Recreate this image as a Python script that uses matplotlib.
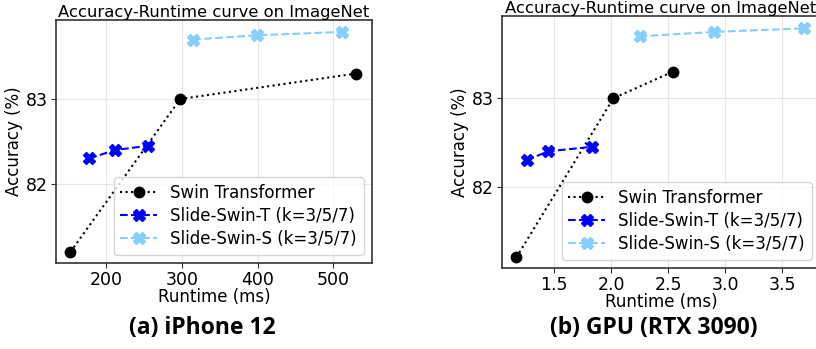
import matplotlib
matplotlib.use("Agg")
import matplotlib.pyplot as plt

# Data: (a) iPhone 12
iphone_swin_x = [153, 298, 530]
iphone_swin_y = [81.2, 83.0, 83.3]
iphone_t_x = [178, 212, 256]
iphone_t_y = [82.3, 82.4, 82.45]
iphone_s_x = [315, 399, 512]
iphone_s_y = [83.7, 83.75, 83.79]

# Data: (b) GPU RTX 3090
gpu_swin_x = [1.17, 2.02, 2.54]
gpu_swin_y = [81.2, 83.0, 83.3]
gpu_t_x = [1.26, 1.45, 1.83]
gpu_t_y = [82.3, 82.4, 82.45]
gpu_s_x = [2.25, 2.90, 3.69]
gpu_s_y = [83.7, 83.75, 83.79]

labels = ["Swin Transformer", "Slide-Swin-T (k=3/5/7)", "Slide-Swin-S (k=3/5/7)"]
captions = ["(a) iPhone 12", "(b) GPU (RTX 3090)"]

W, H = 816, 349
fig = plt.figure(figsize=(W / 100, H / 100), dpi=100)


def px_axes(l, t, r, b):
    return fig.add_axes([l / W, 1 - b / H, (r - l) / W, (b - t) / H])


def draw(ax, sx, sy, tx, ty, qx, qy, xlim, xticks, ylim):
    ax.plot(sx, sy, color="black", linestyle=":", marker="o", markersize=7.5,
            linewidth=1.5, label=labels[0])
    ax.plot(tx, ty, color="blue", linestyle="--", marker="X", markersize=8.5,
            linewidth=1.5, label=labels[1])
    ax.plot(qx, qy, color="lightskyblue", linestyle="--", marker="X", markersize=8.5,
            linewidth=1.5, label=labels[2])
    ax.set_xlim(*xlim)
    ax.set_ylim(*ylim)
    ax.set_xticks(xticks)
    ax.set_yticks([82, 83])
    ax.grid(True, color="#e6e6e6", linewidth=0.8)
    ax.set_axisbelow(True)
    for s in ax.spines.values():
        s.set_color("#333333")
        s.set_linewidth(1.2)
    ax.tick_params(labelsize=12.5, length=3.5, width=0.8, color="#333333", pad=2.5)
    ax.set_xlabel("Runtime (ms)", fontsize=12, labelpad=-1)
    ax.set_ylabel("Accuracy (%)", fontsize=12, labelpad=2)
    ax.set_title("Accuracy-Runtime curve on ImageNet", fontsize=11.8, pad=1)
    ax.legend(loc="lower right", fontsize=12, handlelength=2.2,
              borderpad=0.4, labelspacing=0.3, handletextpad=0.8,
              framealpha=0.8)


ax1 = px_axes(56, 20, 372, 263)
draw(ax1, iphone_swin_x, iphone_swin_y, iphone_t_x, iphone_t_y,
     iphone_s_x, iphone_s_y, (134, 551), [200, 300, 400, 500], (81.07, 83.93))

ax2 = px_axes(502, 16, 820, 268)
draw(ax2, gpu_swin_x, gpu_swin_y, gpu_t_x, gpu_t_y,
     gpu_s_x, gpu_s_y, (1.044, 3.83), [1.5, 2.0, 2.5, 3.0, 3.5], (81.08, 83.93))

fig.text(202 / W, 1 - 328 / H, captions[0], ha="center", va="center",
         fontsize=16.5, fontweight="bold", family="Open Sans")
fig.text(654 / W, 1 - 328 / H, captions[1], ha="center", va="center",
         fontsize=16.5, fontweight="bold", family="Open Sans")

fig.savefig("out.png", dpi=100)
